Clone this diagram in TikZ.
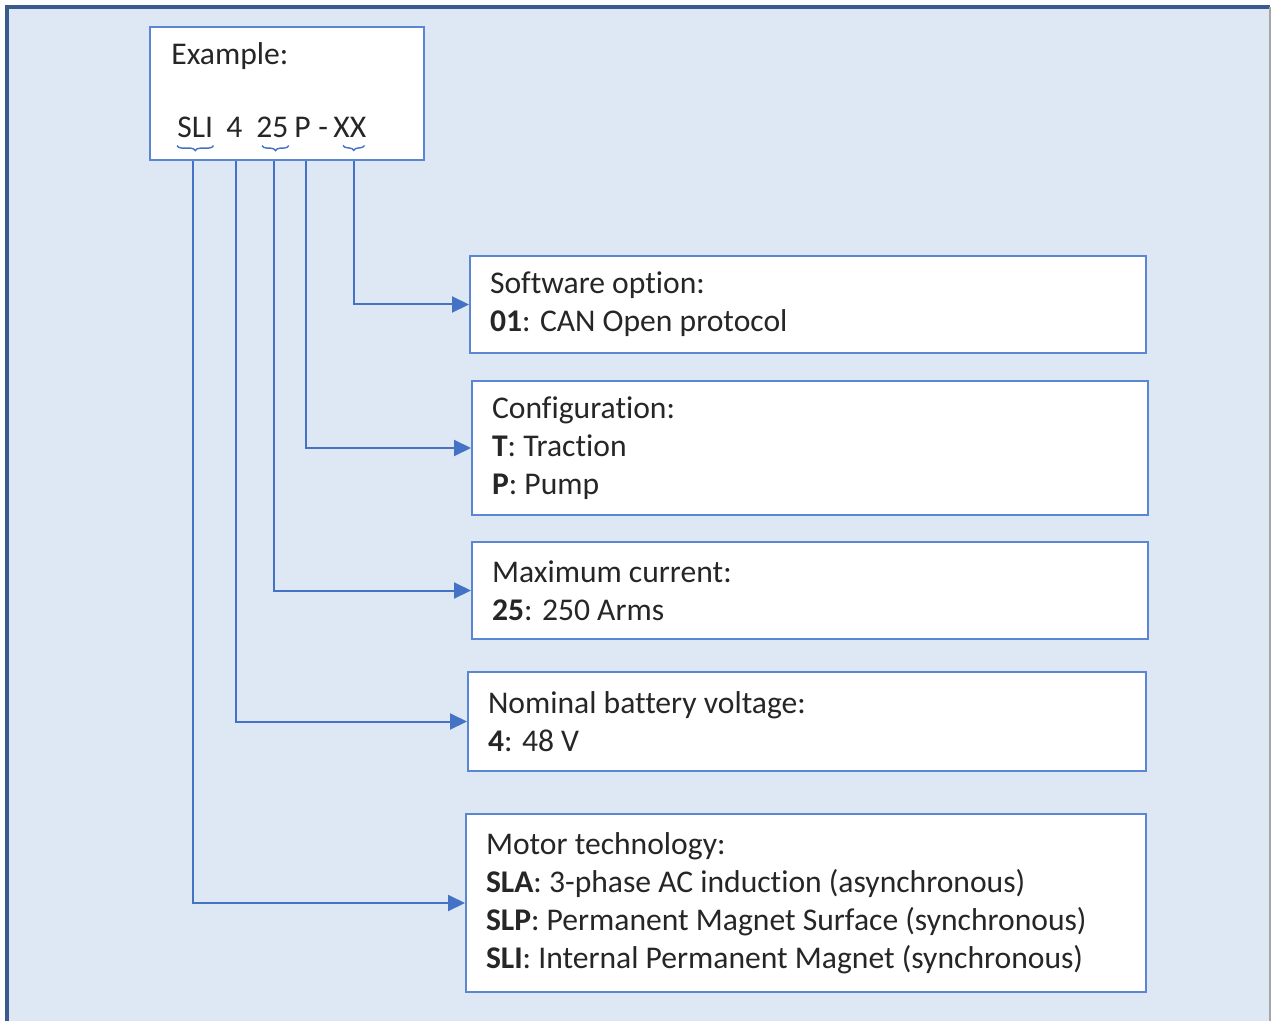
\documentclass[tikz,border=0pt]{standalone}
\usepackage{fontspec}
\setmainfont{Carlito}[Ligatures=NoCommon]
\usetikzlibrary{arrows.meta}
\usetikzlibrary{decorations.pathreplacing}
\usetikzlibrary{positioning}
\definecolor{panelblue}{HTML}{DEE8F5}
\definecolor{framedark}{HTML}{3B5B8E}
\definecolor{linkblue}{HTML}{4472C4}
\definecolor{boxblue}{HTML}{5B87D2}

\begin{document}
\begin{tikzpicture}[
		x=0.5pt, y=-0.5pt,
		every node/.style={font=\fontsize{15.8}{19}\selectfont, text=black!85},
		box/.style={draw=boxblue, line width=1pt, fill=white, anchor=north west,
			inner xsep=10pt, align=flush left, text width=#1},
		code/.style={inner sep=0pt, anchor=base west},
		link/.style={draw=linkblue, line width=1pt, -{Triangle[length=8.5pt, width=8pt]}},
		brc/.style={draw=linkblue, line width=0.7pt, decorate, decoration={brace, amplitude=2.5pt}}
	]

	% Panel
	\useasboundingbox[fill=white] (0,0) rectangle (1272,1021);
	\fill[panelblue] (7,7) rectangle (1270,1021);
	\draw[framedark, line width=1.6pt] (7,1021) -- (7,7) -- (1270,7);
	\draw[black!35, line width=0.8pt] (1270,7) -- (1270,1021);

	% Example code
	\node[draw=boxblue, line width=1pt, fill=white, anchor=north west,
		minimum width=137pt, minimum height=66.5pt] (example) at (149,26) {};
	\node[code] (extitle) at (171,65) {Example:};
	\node[code] (sli) at (177,138) {SLI};
	\node[code] (volt) at (226,138) {4};
	\node[code] (cur) at (256,138) {25};
	\node[code] (cfg) at (294,138) {P};
	\node[code] (dash) at (318,138) {-};
	\node[code] (sw) at (333,138) {XX};

	\draw[brc] ([yshift=-3.5pt]sli.south east) -- ([yshift=-3.5pt]sli.south west);
	\draw[brc] ([xshift=0pt, yshift=-3.5pt]cur.south east) -- ([xshift=3pt, yshift=-3.5pt]cur.south west);
	\draw[brc] ([xshift=-1pt, yshift=-3.5pt]sw.south east) -- ([xshift=5pt, yshift=-3.5pt]sw.south west);

	% Meaning of each field
	\node[box=318pt, minimum height=48.5pt] (software) at (469,255)
	{Software option:\\\textbf{01}: CAN Open protocol};
	\node[box=318pt, minimum height=67pt] (config) at (471,380)
	{Configuration:\\\textbf{T}: Traction\\\textbf{P}: Pump};
	\node[box=318pt, minimum height=48.5pt] (current) at (471,541)
	{Maximum current:\\\textbf{25}: 250 Arms};
	\node[box=319pt, minimum height=49.5pt] (voltage) at (467,671)
	{Nominal battery voltage:\\\textbf{4}: 48 V};
	\node[box=320pt, minimum height=89pt] (motor) at (465,813)
	{Motor technology:\\\textbf{SLA}: 3-phase AC induction (asynchronous)\\
		\textbf{SLP}: Permanent Magnet Surface (synchronous)\\
		\textbf{SLI}: Internal Permanent Magnet (synchronous)};

	% Arrows
	\draw[link] ([xshift=2pt]sw |- example.south) |- (software.west);
	\draw[link] ([xshift=1.5pt]cfg |- example.south) |- (config.west);
	\draw[link] ([xshift=1pt]cur |- example.south) |- (current.west);
	\draw[link] ([xshift=1pt]volt |- example.south) |- (voltage.west);
	\draw[link] ([xshift=-1pt]sli |- example.south) |- (motor.west);

\end{tikzpicture}
\end{document}
